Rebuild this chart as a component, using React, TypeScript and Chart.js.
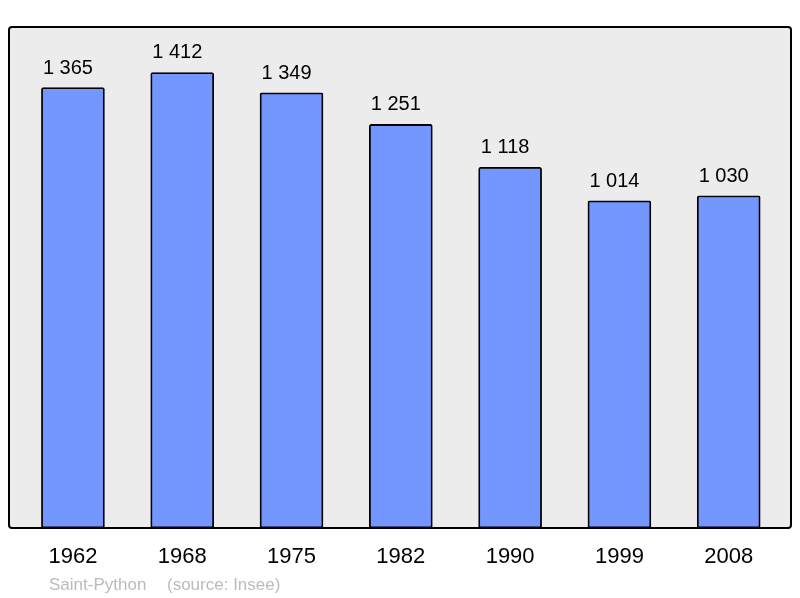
import React, { useEffect, useRef } from "react";
import { Chart, registerables } from "chart.js";

Chart.register(...registerables);

const years = ["1962", "1968", "1975", "1982", "1990", "1999", "2008"];
const population = [1365, 1412, 1349, 1251, 1118, 1014, 1030];
const footerLeft = "Saint-Python";
const footerRight = "(source: Insee)";

const fmt = (v: number) => {
  const s = String(Math.round(v));
  return s.replace(/\B(?=(\d{3})+(?!\d))/g, " ");
};

const FONT = "'Liberation Sans', Arial, sans-serif";

const framePlugin = {
  id: "frame",
  beforeDatasetsDraw(chart: any) {
    const { ctx, chartArea } = chart;
    const { left, top, right, bottom } = chartArea;
    ctx.save();
    ctx.fillStyle = "#ececec";
    ctx.beginPath();
    ctx.roundRect(left, top, right - left, bottom - top, 3);
    ctx.fill();
    ctx.restore();
  },
  afterDatasetsDraw(chart: any) {
    const { ctx, chartArea } = chart;
    const { left, top, right, bottom } = chartArea;
    ctx.save();
    ctx.strokeStyle = "#000";
    ctx.lineWidth = 2;
    ctx.beginPath();
    ctx.roundRect(left, top, right - left, bottom - top, 3);
    ctx.stroke();

    // value labels
    const meta = chart.getDatasetMeta(0);
    ctx.fillStyle = "#000";
    ctx.font = `20px ${FONT}`;
    ctx.textAlign = "center";
    ctx.textBaseline = "alphabetic";
    meta.data.forEach((bar: any, i: number) => {
      ctx.fillText(fmt(population[i]), bar.x - 5, bar.y - 14);
    });

    // footer
    ctx.fillStyle = "#bbbbbb";
    ctx.font = `17px ${FONT}`;
    ctx.textAlign = "left";
    ctx.fillText(footerLeft, 49, 590);
    ctx.fillText(footerRight, 167, 590);
    ctx.restore();
  },
};

export default function App() {
  const ref = useRef<HTMLCanvasElement | null>(null);
  useEffect(() => {
    if (!ref.current) return;
    const chart = new Chart(ref.current, {
      type: "bar",
      data: {
        datasets: [
          {
            data: population.map((v, i) => ({ x: i, y: v })),
            backgroundColor: "#7396ff",
            borderColor: "#000",
            borderWidth: 1.8,
            borderRadius: 2,
            borderSkipped: false,
            barThickness: 63,
          },
        ],
      },
      options: {
        animation: false,
        responsive: false,
        maintainAspectRatio: false,
        layout: { padding: { left: 9, right: 9, top: 27, bottom: 0 } },
        plugins: {
          legend: { display: false },
          tooltip: { enabled: false },
        },
        scales: {
          x: {
            type: "linear",
            offset: false,
            min: -0.585,
            max: 6.57,
            grid: { display: false, drawTicks: false, offset: false },
            border: { display: false },
            afterBuildTicks: (scale: any) => {
              scale.ticks = years.map((_, i) => ({ value: i }));
            },
            afterFit: (scale: any) => {
              scale.height = 70;
            },
            ticks: {
              autoSkip: false,
              maxRotation: 0,
              padding: 16,
              color: "#000",
              font: { family: FONT, size: 22 },
              callback: (value: any) => years[value as number] ?? "",
            },
          },
          y: {
            display: false,
            min: 0,
            max: 1553,
          },
        },
      },
      plugins: [framePlugin],
    });
    return () => chart.destroy();
  }, []);
  return (
    <div style={{ position: "absolute", left: 0, top: 0, width: 800, height: 598, background: "#fff" }}>
      <canvas ref={ref} width={800} height={598} style={{ width: 800, height: 598 }} />
    </div>
  );
}
